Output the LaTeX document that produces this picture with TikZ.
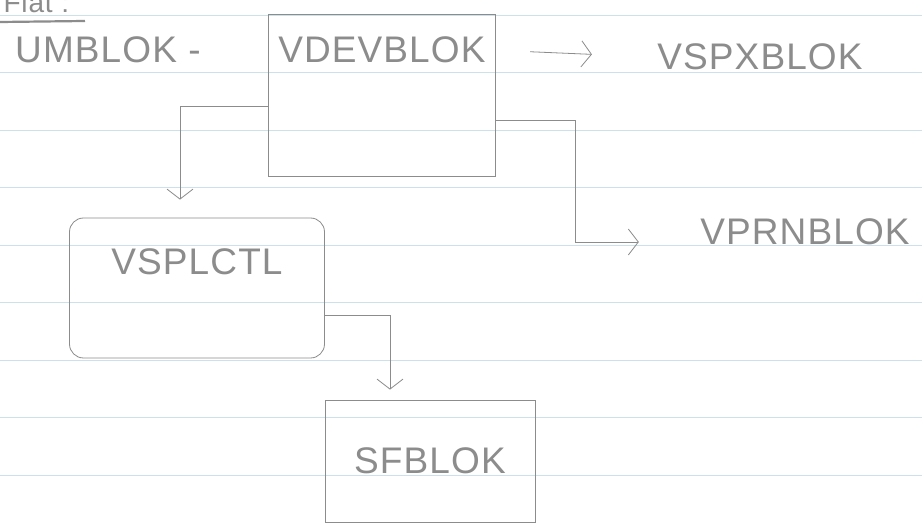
\documentclass[tikz,border=0pt]{standalone}
\usepackage{fontspec}
\newfontfamily\handfont[LetterSpace=3]{Liberation Sans}
\usetikzlibrary{arrows.meta}
\definecolor{pencil}{RGB}{140,140,140}
\definecolor{ruling}{RGB}{205,224,236}

\begin{document}
\begin{tikzpicture}[x=1pt,y=-1pt,
	box/.style={draw=pencil,line width=0.8pt,inner sep=0pt},
	hand/.style={text=pencil,font=\handfont\fontsize{37}{37}\selectfont},
	arr/.style={draw=pencil,line width=0.8pt,-{Straight Barb[length=10pt,width=26pt]}}]
		\clip (0,0) rectangle (922,529);
		\fill[white] (0,0) rectangle (922,529);
		% ruled paper
		\foreach \y in {15,72.5,...,530}
			\draw[ruling,line width=0.8pt] (0,\y) -- (922,\y);
		% title, cut at the top edge
		\node[hand,anchor=base west,font=\handfont\fontsize{28}{28}\selectfont] (title) at (0,13) {Flat :};
		\draw[pencil,line width=2.2pt] (0,22) -- (85,21);
		% blocks
		\node[hand] (umblok) at (108,50) {UMBLOK -};
		\node[box,minimum width=227pt,minimum height=162pt,anchor=north west] (vdev) at (268,14) {};
		\node[hand] (vdevtxt) at ([yshift=-36pt]vdev.north) {VDEVBLOK};
		\node[hand] (vspx) at (760,57) {VSPXBLOK};
		\node[hand] (vprn) at (805,232) {VPRNBLOK};
		\node[box,rounded corners=14pt,minimum width=255pt,minimum height=140pt] (vsplctl) at (197,288) {};
		\node[hand] (vsplctltxt) at ([yshift=-44pt]vsplctl.north) {VSPLCTL};
		\node[box,minimum width=210pt,minimum height=122pt] (sfblok) at (430,461) {};
		\node[hand] (sfbloktxt) at (sfblok) {SFBLOK};
		% connectors
		\draw[arr,shorten <=41pt,shorten >=62pt] (vdevtxt.east) -- (vspx.west);
		\draw[arr,shorten >=18pt] ([yshift=-11pt]vdev.west) -| ([xshift=-17pt]vsplctl.north);
		\draw[arr,shorten >=58pt] ([yshift=-25pt]vdev.east) -- ++(80,0) |- ([yshift=-10pt]vprn.west);
		\draw[arr,shorten >=10pt] ([yshift=-27pt]vsplctl.east) -| ([xshift=-40pt]sfblok.north);
\end{tikzpicture}
\end{document}
